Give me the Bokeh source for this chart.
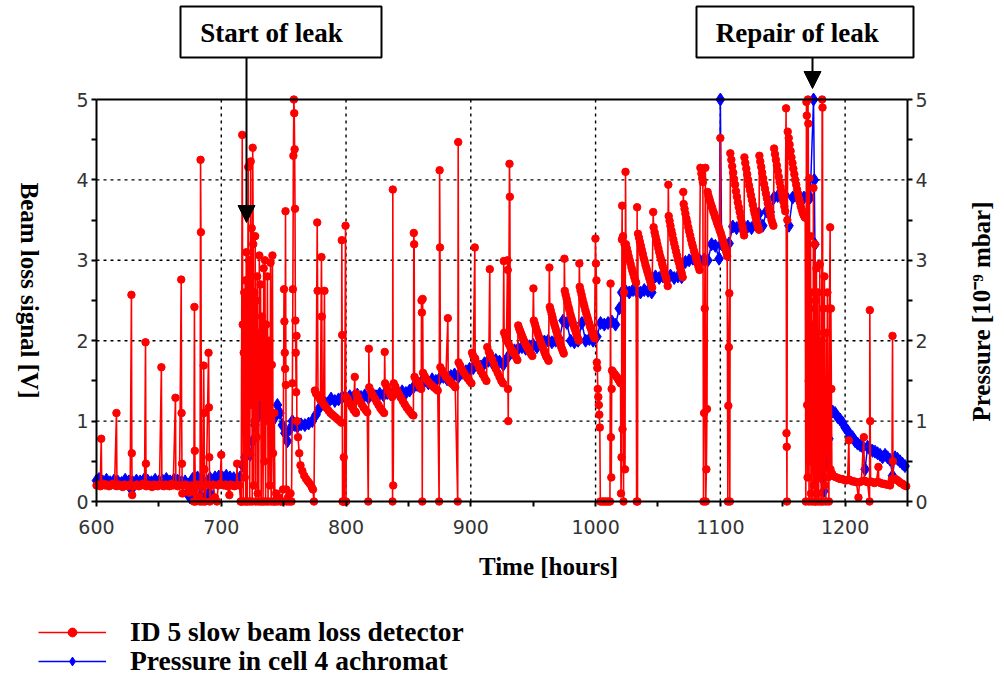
import math
from bokeh.plotting import figure
from bokeh.models import (Range1d, LinearAxis, FixedTicker, Label, Arrow, NormalHead,
                          BoxAnnotation, Legend, LegendItem)
from bokeh.embed import file_html
from bokeh.resources import INLINE

# ---------------- data (hours, value) ----------------
# ID 5 slow beam loss detector [V]
loss_quiet = [(600,0.20),(601.5,0.21),(603,0.19),(603.8,0.78),(604.2,0.20),(605.5,0.22),(607,0.20),(608.5,0.21),
    (610,0.19),(611.5,0.20),(613,0.22),(614.5,0.20),(616,1.10),(616.4,0.19),(618,0.21),(619.5,0.20),(621,0.18),
    (622.5,0.21),(624,0.20),(625.5,0.19),(627,0.21),(628,2.57),(628.3,0.60),(628.6,0.08),(629.5,0.19),(631,0.20),
    (632.5,0.21),(634,0.19),(635.5,0.20),(637,0.22),(638.5,0.20),(639.3,1.98),(639.6,0.47),(640,0.19),(641.5,0.21),
    (643,0.20),(644.5,0.18),(646,0.21),(647.5,0.20),(649,0.19),(650.5,0.21),(652,1.67),(652.4,0.20),(654,0.19),
    (655.5,0.21),(657,0.20),(658.5,0.19),(660,0.22),(661.5,0.20),(663.3,1.29),(663.6,0.21),(665,0.19),(666.5,0.20),
    (667.9,2.76),(668.2,1.10),(668.5,0.47),(668.8,0.10),(670,0.20),(671.5,0.21),(673,0.19),(674.5,0.11),(676,0.20),
    (677.5,0.19),(678,0.00),(678.5,2.42),(678.8,0.63),(679.4,0.00),(680.5,0.21),(682,0.05),(683,0.00),(683.4,4.25),
    (683.7,3.35),(684.1,0.20),(685,0.00),(685.9,1.69),(686.2,1.10),(686.5,0.40),(687,0.00),(688,0.21),(689.8,1.85),
    (690.1,1.17),(690.4,0.55),(690.8,0.00),(692,0.20),(693.5,0.21),(695,0.05),(696.5,0.00),(697.5,0.20),(699,0.22),
    (700,0.58),(700.4,0.21),(702,0.20),(703.5,0.21),(705,0.19),(706.5,0.08),(707.5,0.21),(709,0.20),(710.5,0.19),
    (712,0.20),(712.7,0.47),(713.1,0.21),(714.5,0.20),(715.5,0.00)]
loss_leak = [(716.0,0.00),(716.8,4.56),(717.2,2.20),(717.6,0.00),(718.0,1.85),(718.4,2.60),(718.8,0.30),(719.2,2.75),
    (719.6,0.00),(720.0,3.10),(720.4,1.50),(720.8,0.00),(721.2,2.35),(721.6,4.16),(722.0,0.60),(722.4,3.00),
    (722.8,0.00),(723.2,2.20),(723.6,4.23),(724.0,1.20),(724.4,3.40),(724.8,0.00),(725.2,4.40),(725.6,3.20),
    (726.0,0.20),(726.4,2.60),(726.8,1.00),(727.2,3.30),(727.6,0.00),(728.0,2.50),(728.4,0.80),(728.8,2.80),
    (729.2,0.10),(729.6,2.10),(730.0,0.00),(730.5,3.06),(731.0,1.30),(731.5,2.70),(732.0,0.00),(732.5,2.30),
    (733.0,1.80),(733.5,0.00),(734.0,2.90),(734.5,0.50),(735.0,3.00),(735.5,0.00),(736.0,2.20),(736.5,1.00),
    (737.0,2.80),(737.5,0.00),(738.0,1.60),(738.5,2.00),(739.0,0.20),(739.5,2.97),(740.0,0.00),(740.5,1.70),
    (741.0,3.06),(741.5,0.60),(742.0,0.00),(742.5,1.10),(743.0,0.00),(744.0,0.10),(745.0,0.00),(746.5,0.05),
    (747.5,0.00),(748.5,0.00),(749.5,0.15),(750.3,2.64),(750.6,2.24),(750.9,1.85),(751.2,1.65),(751.5,3.61),
    (751.8,1.45),(752.1,0.15),(752.5,0.00),(753.5,0.05),(754.5,0.00),(755.5,0.10),(756.3,0.00),(757.0,1.47),
    (757.4,2.64),(757.8,4.30),(758.2,5.00),(758.5,4.83),(758.8,4.38),(759.1,3.64),(759.4,2.25),(759.7,1.85),
    (760.0,1.36),(760.3,2.06),(760.6,1.00),(761.5,0.80),(762.5,0.60),(763.5,0.45),(765.0,0.38),(766.5,0.32),
    (768.0,0.28),(769.5,0.25),(771.0,0.22),(772.5,0.18),(773.5,0.15),(774.3,0.00)]
loss_fills_1 = [(775.0,1.38),(776.0,1.34),(776.9,3.47),(777.2,2.62),(777.5,1.32),(778.5,1.29),(779.5,1.26),(780.3,3.04),
    (780.6,2.30),(780.9,1.24),(782.0,1.21),(782.7,2.62),(783.0,1.19),(784.5,1.16),(786.0,1.13),(787.5,1.10),
    (789.0,1.08),(790.5,1.06),(792.0,1.04),(793.5,1.02),(795.0,1.00),(796.4,0.98),(796.6,3.25),(796.9,2.07),
    (797.2,0.00),(797.6,0.00),(798.2,0.55),(798.6,0.00),(799.6,3.43),(800.0,0.00),
    (800.4,1.30),(801.5,1.27),(803.0,1.22),(804.5,1.18),(806.0,1.14),(807.0,1.55),(807.3,1.12),(808.0,1.10),
    (808.3,1.34),(809.5,1.30),(811.0,1.25),(812.5,1.21),(814.0,1.17),(815.5,1.14),(817.0,1.11),
    (817.8,0.00),(818.3,1.90),(818.6,1.42),(820.0,1.37),(821.5,1.32),(823.0,1.28),(824.5,1.24),(826.0,1.20),
    (827.5,1.16),(829.0,1.13),(830.5,1.10),(831.0,1.86),
    (831.3,1.47),(832.5,1.43),(834.0,1.38),(835.5,1.33),(837.0,1.30),(837.3,0.00),(837.5,3.88),(837.8,0.20),
    (838.2,1.47),(839.5,1.43),(841.0,1.38),(842.5,1.33),(844.0,1.29),(845.5,1.25),(847.0,1.21),(848.5,1.17),
    (850.0,1.14),(851.5,1.11),(853.0,1.08),(854.0,1.07),(854.3,3.34),(854.6,3.20),
    (854.9,1.55),(856.0,1.51),(857.5,1.47),(859.0,1.43),(860.3,1.40),(860.5,2.50),(860.8,2.35),(861.1,0.00),
    (861.4,2.52),(861.7,1.60),(863.0,1.56),(864.5,1.52),(866.0,1.49),(867.5,1.46),(869.0,1.44),(870.5,1.42),
    (872.0,1.40),(873.5,1.38),(874.6,0.00),(875.0,4.12),(875.3,3.16),
    (875.6,1.67),(877.0,1.63),(878.5,1.59),(880.0,1.55),(881.6,2.28),(881.9,1.52),(883.0,1.50),(884.5,1.47),
    (886.0,1.45),(887.5,1.42),(889.5,0.00),(889.9,4.47),
    (890.2,1.73),(891.5,1.69),(893.0,1.64),(894.5,1.60),(896.0,1.56),(897.5,1.53),(899.0,1.50),(900.5,1.47),
    (901.0,1.85),(902.0,1.81),(903.2,3.16),(903.5,1.78),(905.0,1.72),(906.5,1.67),(908.0,1.62),(909.5,1.58),
    (911.0,1.54),(912.5,1.50),
    (913.2,1.92),(914.5,1.86),(915.2,2.89),(915.5,1.83),(917.0,1.77),(918.5,1.71),(920.0,1.65),(921.5,1.60),
    (923.0,1.55),(924.5,1.50),(925.8,1.47),(926.4,2.99),
    (926.7,2.10),(927.8,2.05),(928.6,2.00),(929.4,3.00),(929.6,2.88),(929.8,1.40),(930.0,1.00),(930.3,1.96),
    (931.0,4.20),(931.3,3.79),(931.6,1.92),(933.0,1.88),(934.5,1.84),(936.0,1.80),(937.3,1.76),
    (938.0,2.19),(938.8,2.15),(939.5,2.12),(940.3,2.09),(941.0,2.06),(941.8,2.03),(942.5,2.00),(943.3,1.98),
    (944.0,1.95),(944.8,1.93),(945.5,1.91),(946.3,1.89),(947.0,1.87),(947.8,1.85),(948.5,1.83),(949.3,1.81),
    (950.2,2.65),
    (950.5,2.25),(951.3,2.21),(952.0,2.17),(952.8,2.13),(953.5,2.10),(954.3,2.06),(955.0,2.03),(955.8,1.99),
    (956.5,1.96),(957.3,1.93),(958.0,1.90),(958.8,1.87),(959.5,1.84),(960.3,1.81),(961.0,1.79),(961.8,1.77),
    (962.3,1.75),(963.0,2.91),
    (963.3,2.42),(964.0,2.38),(964.8,2.33),(965.5,2.29),(966.3,2.24),(967.0,2.20),(967.8,2.16),(968.5,2.12),
    (969.3,2.08),(970.0,2.04),(970.8,2.00),(971.5,1.97),(972.3,1.93),(973.0,1.90),(973.8,1.87),(974.5,1.84),
    (975.0,3.02),
    (975.3,2.62),(976.0,2.57),(976.8,2.52),(977.5,2.47),(978.3,2.42),(979.0,2.38),(979.8,2.33),(980.5,2.29),
    (981.3,2.25),(982.0,2.21),(982.8,2.17),(983.5,2.14),(984.3,2.10),(985.0,2.07),(985.8,2.03),(986.5,2.00),
    (987.0,2.96),
    (987.3,2.67),(988.0,2.62),(988.8,2.57),(989.5,2.52),(990.3,2.47),(991.0,2.43),(991.8,2.38),(992.5,2.34),
    (993.3,2.30),(994.0,2.26),(994.8,2.22),(995.5,2.18),(996.3,2.15),(997.0,2.11),(997.8,2.08),(998.5,2.05),
    (999.2,2.03),(999.9,3.27)]
loss_gap = [(1000.3,2.96),(1000.7,2.75),(1001.0,1.73),(1001.4,1.66),(1001.8,1.40),(1002.2,1.30),(1002.6,1.20),
    (1003.0,1.08),(1003.4,0.92),(1003.8,0.00),(1005.5,0.00),(1007.0,0.00),(1008.5,0.00),(1010.0,0.00),
    (1011.5,0.00),(1012.0,2.71),(1012.3,0.80),(1012.6,0.30),(1012.9,1.40),(1013.2,1.63),(1014.0,1.61),
    (1014.8,1.59),(1015.5,1.58),(1016.3,1.56),(1017.0,1.55),(1017.8,1.53),(1018.5,1.51),(1019.3,1.49),
    (1020.0,1.47),(1020.4,0.10),(1020.8,0.55),(1021.1,3.26),(1021.3,3.68),(1021.6,0.90),(1022.0,3.30),
    (1022.4,0.00),(1022.8,2.60),(1023.2,3.20),(1023.6,0.40),(1024.0,4.10)]
loss_fills_2 = [(1024.3,3.20),(1025.0,3.15),(1025.8,3.10),(1026.5,3.05),(1027.3,3.00),(1028.0,2.96),(1028.8,2.91),
    (1029.5,2.87),(1030.3,2.83),(1031.0,2.79),(1031.8,2.75),(1032.5,2.72),(1032.9,0.00),(1033.3,3.66),(1033.6,0.00),
    (1034.0,3.33),(1034.8,3.28),(1035.5,3.23),(1036.3,3.18),(1037.0,3.13),(1037.8,3.08),(1038.5,3.03),(1039.3,2.99),
    (1040.0,2.94),(1040.8,2.90),(1041.5,2.86),(1042.3,2.82),(1043.0,2.78),(1043.8,2.74),(1044.5,2.70),(1045.3,2.66),
    (1046.2,3.60),
    (1046.5,3.41),(1047.3,3.35),(1048.0,3.30),(1048.8,3.25),(1049.5,3.20),(1050.3,3.15),(1051.0,3.10),(1051.8,3.05),
    (1052.5,3.01),(1053.3,2.96),(1054.0,2.92),(1054.8,2.87),(1055.5,2.83),(1056.3,2.79),(1057.0,2.75),(1057.8,2.68),
    (1058.3,3.94),
    (1058.6,3.55),(1059.3,3.49),(1060.0,3.43),(1060.8,3.37),(1061.5,3.32),(1062.3,3.26),(1063.0,3.21),(1063.8,3.16),
    (1064.5,3.11),(1065.3,3.06),(1066.0,3.01),(1066.8,2.97),(1067.5,2.92),(1068.3,2.88),(1069.0,2.84),(1069.8,2.79),
    (1070.3,3.85),
    (1070.6,3.70),(1071.3,3.64),(1072.0,3.58),(1072.8,3.52),(1073.5,3.47),(1074.3,3.41),(1075.0,3.36),(1075.8,3.31),
    (1076.5,3.26),(1077.3,3.21),(1078.0,3.17),(1078.8,3.12),(1079.5,3.08),(1080.3,3.04),(1081.0,3.00),(1081.8,2.96),
    (1082.5,2.92),(1083.3,2.88),
    (1084.0,4.15),(1084.8,4.08),(1085.5,4.02),(1086.0,3.97),(1086.5,0.00),(1087.0,1.10),(1087.5,2.40),(1088.0,4.15),
    (1088.3,0.00),(1088.8,0.40),(1089.3,1.15),(1089.8,3.85),(1090.5,3.80),(1091.3,3.76),(1092.0,3.72),(1092.8,3.68),
    (1093.5,3.65),(1094.3,3.61),(1095.0,3.58),(1095.8,3.54),(1096.5,3.51),(1097.3,3.47),(1098.0,3.44),(1098.8,3.41),
    (1099.5,3.37),(1100.0,4.52),(1100.3,3.34),(1101.0,3.30),(1101.8,3.26),(1102.5,3.22),(1103.3,3.18),(1104.0,3.14),
    (1104.8,3.10),(1105.5,3.05),(1106.0,0.00),(1106.4,1.19),(1106.8,1.92),(1107.2,2.59),(1107.6,0.00),
    (1108.0,4.33),(1108.8,4.25),(1109.5,4.17),(1110.3,4.09),(1111.0,4.01),(1111.8,3.94),(1112.5,3.86),(1113.3,3.79),
    (1114.0,3.72),(1114.8,3.66),(1115.5,3.60),(1116.3,3.54),(1117.0,3.48),(1117.8,3.42),(1118.5,3.36),(1119.0,3.31),
    (1119.3,4.28),(1120.0,4.21),(1120.8,4.14),(1121.5,4.07),(1122.3,4.00),(1123.0,3.93),(1123.8,3.87),(1124.5,3.81),
    (1125.3,3.75),(1126.0,3.69),(1126.8,3.63),(1127.5,3.58),(1128.3,3.53),(1129.0,3.48),(1129.8,3.44),(1130.5,3.40),
    (1131.0,3.38),
    (1131.3,4.30),(1132.0,4.23),(1132.8,4.16),(1133.5,4.09),(1134.3,4.02),(1135.0,3.95),(1135.8,3.89),(1136.5,3.83),
    (1137.3,3.77),(1138.0,3.71),(1138.8,3.65),(1139.5,3.60),(1140.3,3.55),(1141.0,3.50),(1141.8,3.46),(1142.5,3.43),
    (1143.1,4.39),(1143.8,4.32),(1144.5,4.25),(1145.3,4.18),(1146.0,4.11),(1146.8,4.04),(1147.5,3.97),(1148.3,3.91),
    (1149.0,3.85),(1149.8,3.79),(1150.5,3.73),(1151.3,3.67),(1152.0,3.61),
    (1152.7,4.89),(1153.0,0.85),(1153.2,0.68),(1153.4,0.00),(1153.7,3.50),
    (1154.0,4.60),(1154.8,4.52),(1155.5,4.44),(1156.3,4.36),(1157.0,4.28),(1157.8,4.21),(1158.5,4.14),(1159.3,4.07),
    (1160.0,4.00),(1160.8,3.94),(1161.5,3.88),(1162.3,3.82),(1163.0,3.77),(1163.8,3.72),(1164.5,3.67),(1165.3,3.63),
    (1166.0,3.59),(1166.8,3.56),(1167.5,3.54),(1168.0,3.53)]
loss_repair = [(1168.5,0.00),(1169.0,4.97),(1169.3,4.80),(1169.6,1.20),(1169.9,0.30),(1170.2,5.00),(1170.5,4.70),
    (1170.8,1.50),(1171.1,0.00),(1171.4,4.02),(1171.7,2.40),(1172.0,0.50),(1172.3,3.30),(1172.6,0.10),
    (1172.9,2.60),(1173.2,1.25),(1173.5,0.00),(1174.0,2.20),(1174.3,0.60),(1174.6,3.90),(1174.9,0.20),
    (1175.2,1.80),(1175.5,0.00),(1175.8,3.20),(1176.1,0.80),(1176.4,2.50),(1176.7,0.00),(1177.0,2.90),
    (1177.3,1.00),(1177.6,2.10),(1177.9,0.10),(1178.2,2.60),(1178.5,1.20),(1178.8,0.00),(1179.1,2.00),
    (1179.4,0.50),(1179.7,2.95),(1180.0,0.30),(1180.4,1.90),(1180.8,0.00),(1181.2,1.50),(1181.6,5.00),
    (1181.9,4.90),(1182.2,0.00),(1182.6,2.40),(1183.0,0.40),(1183.4,2.80),(1183.8,0.20),(1184.2,1.50),
    (1184.6,0.00),(1185.0,2.10),(1185.4,0.60),(1185.8,2.60),(1186.2,0.30),(1186.6,1.40),(1187.0,0.00),
    (1187.4,2.40),(1188.0,3.41),(1188.3,0.40),(1188.6,2.40),(1189.0,1.40),(1189.4,0.35),(1190.0,0.32)]
loss_after = [(1191.5,0.31),(1193.0,0.30),(1194.5,0.29),(1196.0,0.28),(1197.5,0.28),(1199.0,0.27),(1200.5,0.26),
    (1202.0,0.27),(1203.0,0.76),(1203.4,0.27),(1204.5,0.26),(1206.0,0.25),(1207.5,0.25),(1209.0,0.24),
    (1210.7,0.05),(1211.5,0.24),(1213.0,0.25),(1215.0,0.80),(1215.4,0.26),(1216.5,0.25),(1218.0,0.24),
    (1219.6,0.00),(1219.8,2.38),(1220.1,1.00),(1220.4,0.25),(1222.0,0.24),(1223.5,0.23),(1225.0,0.24),
    (1226.7,0.43),(1227.0,0.24),(1228.5,0.23),(1230.0,0.22),(1231.5,0.22),(1233.0,0.21),(1234.5,0.21),
    (1236.0,0.20),(1237.5,0.28),(1238.0,2.06),(1238.3,0.50),(1238.6,0.27),(1240.0,0.28),(1241.5,0.27),
    (1243.0,0.25),(1244.5,0.23),(1246.0,0.22),(1247.5,0.20),(1249.0,0.19)]

# Pressure in cell 4 achromat [1e-9 mbar]
pressure_pre = [(600,0.26),(602,0.28),(605,0.25),(608,0.27),(611,0.24),(614,0.26),(617,0.25),(620,0.23),(623,0.27),
    (626,0.25),(628,0.15),(629,0.24),(632,0.26),(635,0.25),(638,0.27),(641,0.26),(644,0.24),(647,0.27),(650,0.25),
    (653,0.26),(656,0.28),(659,0.25),(662,0.27),(665,0.26),(668,0.24),(671,0.25),(673,0.10),(675,0.05),(677,0.28),
    (679,0.04),(681,0.30),(683,0.06),(685,0.27),(687,0.05),(689,0.08),(691,0.29),(693,0.05),(695,0.30),(698,0.31),
    (701,0.30),(704,0.32),(707,0.30),(710,0.29),(713,0.27),(715,0.30)]
pressure_rise = [(717,0.45),(719,0.55),(721,0.60),(723,0.58),(725,0.75),(727,0.95),(729,1.05),(731,1.15),(733,1.22),
    (735,1.30),(737,1.25),(739,1.12),(741,1.00),(743,1.05),(745,1.20),(747,1.10),(749,0.95),(751,0.85),(753,0.75),
    (755,0.90),(757,1.00),(759,0.95),(761,0.93),(764,0.96),(767,0.95),(770,0.97),(773,1.00),(776,1.08),(779,1.17),
    (782,1.25),(785,1.22),(788,1.28),(791,1.25),(794,1.27),(797,1.30),(800,1.28),(803,1.31),(806,1.30),(809,1.33),
    (812,1.30),(815,1.32),(818,1.29),(821,1.33),(824,1.31),(827,1.34),(830,1.32),(833,1.35),(836,1.33),(839,1.36),
    (842,1.34),(845,1.37),(848,1.35),(851,1.38),(854,1.42),(857,1.45),(860,1.48),(863,1.50),(866,1.47),(869,1.52),
    (872,1.50),(875,1.53),(878,1.55),(881,1.52),(884,1.56),(887,1.58),(890,1.55),(893,1.60),(896,1.62),(899,1.65),
    (902,1.66),(905,1.70),(908,1.68),(911,1.72),(914,1.75),(917,1.73),(920,1.76),(923,1.74),(926,1.70),(929,1.78),
    (932,1.85),(935,1.88),(938,1.90),(941,1.92),(944,1.90),(947,1.93),(950,1.95),(953,1.92),(956,1.97),(959,1.99),
    (962,2.00),(965,1.98),(968,2.00),(971,2.02),(974,2.25),(977,2.22),(980,2.00),(983,1.98),(986,2.00),(989,2.22),
    (992,2.00),(995,2.02),(998,2.00)]
pressure_steps = [(1001,2.05),(1004,2.22),(1007,2.20),(1010,2.22),(1013,2.24),(1016,2.20),(1019,2.40),(1021,2.60),
    (1024,2.62),(1027,2.60),(1030,2.63),(1033,2.61),(1036,2.60),(1039,2.63),(1042,2.62),(1045,2.60),(1048,2.80),
    (1051,2.78),(1054,2.80),(1057,2.79),(1060,2.81),(1063,2.78),(1066,2.80),(1069,2.79),(1072,2.98),(1075,3.00),
    (1078,3.02),(1081,3.00),(1084,2.99),(1087,3.01),(1090,3.00),(1093,3.20),(1096,3.18),(1099,3.02),(1100,5.00),
    (1101,3.20),(1104,3.19),(1107,3.21),(1110,3.42),(1113,3.40),(1116,3.43),(1119,3.41),(1122,3.42),(1125,3.40),
    (1128,3.60),(1131,3.58),(1134,3.43),(1137,3.61),(1140,3.60),(1143,3.78),(1146,3.80),(1149,3.79),(1152,3.81),
    (1155,3.43),(1158,3.78),(1161,3.80),(1164,3.79),(1167,3.78),(1170,3.80),(1172,3.78)]
pressure_after = [(1174.7,5.00),(1175.3,4.00),(1175.8,3.20),(1176.3,2.09),(1177.0,1.70),(1177.5,1.55),(1178,1.20),
    (1179,0.55),(1180,1.25),(1181,0.30),(1182,1.20),(1183,0.13),(1184,1.15),(1185,0.50),(1186,1.18),(1187,0.78),
    (1188,1.15),(1190,1.12),(1192,1.10),(1194,1.05),(1196,1.02),(1198,0.98),(1200,0.92),(1202,0.88),(1204,0.82),
    (1206,0.80),(1208,0.75),(1210,0.72),(1212,0.70),(1214,0.68),(1216,0.40),(1218,0.68),(1220,0.65),(1222,0.63),
    (1224,0.62),(1226,0.60),(1228,0.58),(1230,0.55),(1232,0.58),(1234,0.55),(1236,0.52),(1238,0.32),(1240,0.55),
    (1242,0.53),(1244,0.50),(1246,0.47),(1248,0.44)]

x_major = [600, 700, 800, 900, 1000, 1100, 1200]
x_minor = [650, 750, 850, 950, 1050, 1150, 1250]
y_major = [0, 1, 2, 3, 4, 5]
y_minor = [0.5, 1.5, 2.5, 3.5, 4.5]
x_limits = (600, 1250)
y_limits = (0, 5)

loss_series = loss_quiet + loss_leak + loss_fills_1 + loss_gap + loss_fills_2 + loss_repair + loss_after
pressure_series = pressure_pre + pressure_rise + pressure_steps + pressure_after
loss_hours = [t for t, v in loss_series]
loss_volts = [v for t, v in loss_series]
pressure_hours = [t for t, v in pressure_series]
pressure_vals = [v for t, v in pressure_series]

# ---------------- layout: the plot area sits at these page pixels ----------------
W, H = 1004, 675
FL, FR, FT, FB = 96, 907, 99, 501
def hx(px):
    return x_limits[0] + (px - FL) * (x_limits[1] - x_limits[0]) / (FR - FL)
def vy(py):
    return y_limits[0] + (FB - py) * (y_limits[1] - y_limits[0]) / (FB - FT)

SERIF = "Liberation Serif"
RED = "#FF0000"
BLUE = "#0000FF"

p = figure(width=W, height=H, x_range=Range1d(hx(0), hx(W)), y_range=Range1d(vy(H), vy(0)),
           output_backend="svg", toolbar_location=None, title=None,
           x_axis_location=None, y_axis_location=None, min_border=0)
p.extra_y_ranges = {"pressure": Range1d(vy(H), vy(0))}
p.outline_line_color = None
p.background_fill_color = "white"
p.border_fill_color = "white"
p.grid.visible = False

def style_axis(ax, standoff):
    ax.axis_line_width = 2
    ax.axis_line_color = "black"
    ax.major_tick_line_width = 2
    ax.minor_tick_line_width = 2
    ax.major_tick_out = 5
    ax.major_tick_in = 0
    ax.minor_tick_out = 5
    ax.minor_tick_in = 0
    ax.major_label_text_font = "DejaVu Sans"
    ax.major_label_text_font_size = "19px"
    ax.major_label_text_color = "#333333"
    ax.major_label_standoff = standoff

# dotted grid (drawn first, under the data)
p.segment(x0=x_major[1:], y0=[y_limits[0]] * 6, x1=x_major[1:], y1=[y_limits[1]] * 6,
          line_color="black", line_dash="3 4", line_width=1.4)
p.segment(x0=[x_limits[0]] * 4, y0=y_major[1:-1], x1=[x_limits[1]] * 4, y1=y_major[1:-1],
          line_color="black", line_dash="3 4", line_width=1.4)

blue_line = p.line(pressure_hours, pressure_vals, color=BLUE, line_width=1.5, y_range_name="pressure")
blue_pts = p.scatter(pressure_hours, pressure_vals, marker="diamond", size=13, color=BLUE, y_range_name="pressure")
red_line = p.line(loss_hours, loss_volts, color=RED, line_width=1.6)
red_pts = p.scatter(loss_hours, loss_volts, marker="circle", size=7.5, color=RED)

# axes placed at the plot-area edges
bottom_axis = LinearAxis(fixed_location=y_limits[0], bounds=x_limits,
                         ticker=FixedTicker(ticks=x_major, minor_ticks=x_minor))
style_axis(bottom_axis, 13)
p.add_layout(bottom_axis, "below")

left_axis = LinearAxis(fixed_location=x_limits[0], bounds=y_limits,
                       ticker=FixedTicker(ticks=y_major, minor_ticks=y_minor))
style_axis(left_axis, 3)
p.add_layout(left_axis, "left")

right_axis = LinearAxis(fixed_location=x_limits[1], bounds=y_limits, y_range_name="pressure",
                        ticker=FixedTicker(ticks=y_major, minor_ticks=y_minor))
style_axis(right_axis, 3)
p.add_layout(right_axis, "right")

top_axis = LinearAxis(fixed_location=y_limits[1], bounds=x_limits, ticker=FixedTicker(ticks=[]))
top_axis.axis_line_width = 2
top_axis.major_tick_line_color = None
top_axis.minor_tick_line_color = None
top_axis.major_label_text_font_size = "0px"
p.add_layout(top_axis, "above")

# ---------------- axis titles ----------------
p.add_layout(Label(x=hx(29), y=vy(290), text="Beam loss signal [V]", angle=-math.pi / 2,
                   text_align="center", text_baseline="middle", text_font=SERIF,
                   text_font_style="bold", text_font_size="25px", text_color="black"))
p.add_layout(Label(x=hx(981), y=vy(311), text="Pressure [10\u207b\u2079 mbar]", angle=math.pi / 2,
                   text_align="center", text_baseline="middle", text_font=SERIF,
                   text_font_style="bold", text_font_size="25px", text_color="black"))
p.add_layout(Label(x=hx(548), y=vy(566), text="Time [hours]",
                   text_align="center", text_baseline="middle", text_font=SERIF,
                   text_font_style="bold", text_font_size="25px", text_color="black"))

# ---------------- event annotations ----------------
for (bl, br, tx, txt, ax_px, tip_py) in [(180, 381, 271, "Start of leak", 246, 222),
                                          (696, 913, 797, "Repair of leak", 812, 88)]:
    p.add_layout(BoxAnnotation(left=hx(bl), right=hx(br), top=vy(6), bottom=vy(57),
                               fill_color="white", fill_alpha=1.0, line_color="black",
                               line_width=2, line_alpha=1.0))
    p.add_layout(Label(x=hx(tx), y=vy(32), text=txt, text_align="center",
                       text_baseline="middle", text_font=SERIF, text_font_style="bold",
                       text_font_size="27px", text_color="black"))
    p.add_layout(Arrow(end=NormalHead(size=17, fill_color="black", line_color="black"),
                       x_start=hx(ax_px), y_start=vy(57), x_end=hx(ax_px), y_end=vy(tip_py),
                       line_color="black", line_width=2))

# ---------------- legend ----------------
def make_legend(label, renderers, center_py):
    item_h = 31
    leg = Legend(items=[LegendItem(label=label, renderers=renderers)],
                 location=(38, H - (center_py + item_h / 2)),
                 orientation="vertical", padding=0, margin=0, spacing=0,
                 glyph_width=68, glyph_height=22, label_height=item_h, label_standoff=24,
                 label_text_font=SERIF, label_text_font_style="bold", label_text_font_size="27.5px",
                 label_text_color="black", border_line_color=None, background_fill_alpha=0.0)
    p.add_layout(leg)

make_legend("ID 5 slow beam loss detector", [red_line, red_pts], 632)
make_legend("Pressure in cell 4 achromat", [blue_line, blue_pts], 661)

open("out.html", "w").write(file_html(p, INLINE))
